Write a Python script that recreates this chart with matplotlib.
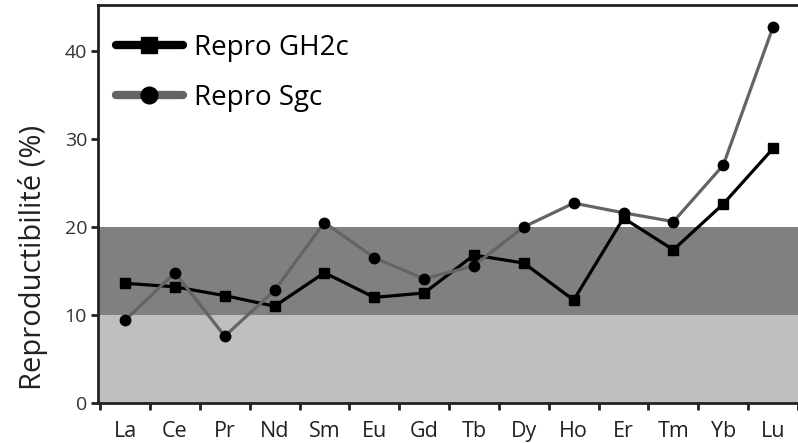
import numpy as np
import matplotlib.pyplot as plt
import matplotlib as mpl
from matplotlib.lines import Line2D

mpl.rcParams.update({
    "font.family": ["Open Sans", "DejaVu Sans"],
    "axes.spines.right": False,
})

# Data
elements = ["La", "Ce", "Pr", "Nd", "Sm", "Eu", "Gd", "Tb", "Dy", "Ho",
            "Er", "Tm", "Yb", "Lu"]
repro_gh2c = [13.6, 13.2, 12.2, 11.0, 14.8, 12.0, 12.5, 16.8, 15.9, 11.7,
              21.0, 17.4, 22.6, 28.9]
repro_sgc = [9.4, 14.8, 7.6, 12.8, 20.5, 16.5, 14.1, 15.6, 20.0, 22.7,
             21.6, 20.6, 27.0, 42.7]
yticks = [0, 10, 20, 30, 40]

fig = plt.figure(figsize=(7.98, 4.43), dpi=100)
ax = fig.add_axes([0.123, 0.090, 0.877, 0.899])

x = np.arange(len(elements))

# background bands
ax.axhspan(0, 10, color="#bfbfbf", lw=0, zorder=0)
ax.axhspan(10, 20, color="#808080", lw=0, zorder=0)

ax.plot(x, repro_gh2c, color="black", lw=2.3, marker="s", ms=7,
        mfc="black", mec="black", zorder=3)
ax.plot(x, repro_sgc, color="#646464", lw=2.3, marker="o", ms=7.5,
        mfc="black", mec="black", zorder=4)

ax.set_xlim(-0.54, 13.35)
ax.set_ylim(0, 45.2)

ax.set_xticks(x)
ax.set_xticklabels(elements)
ax.set_xticks(np.arange(-0.5, len(elements), 1.0), minor=True)
ax.tick_params(axis="x", which="major", length=0, pad=13, labelsize=15.5,
               labelcolor="#222222")
ax.tick_params(axis="x", which="minor", length=5, width=2, color="#222222")

ax.set_yticks(yticks)
ax.tick_params(axis="y", length=5, width=2, color="#222222", labelsize=14,
               labelcolor="#333333", pad=3)

for side in ["left", "bottom", "top"]:
    ax.spines[side].set_linewidth(2.0)
    ax.spines[side].set_color("#222222")

ax.set_ylabel("Reproductibilité (%)", fontsize=21, color="#222222")
ax.yaxis.set_label_coords(-0.072, 0.365)

handles = [
    Line2D([], [], color="black", lw=6, marker="s", ms=11,
           solid_capstyle="round", mfc="black", mec="black"),
    Line2D([], [], color="#646464", lw=6, marker="o", ms=12,
           solid_capstyle="round", mfc="black", mec="black"),
]
ax.legend(handles, ["Repro GH2c", "Repro Sgc"], loc="upper left",
          bbox_to_anchor=(-0.014, 0.997), frameon=False, fontsize=20,
          handlelength=2.4, handletextpad=0.4, labelspacing=0.8,
          borderaxespad=0.6)

fig.savefig("out.png", dpi=100)
